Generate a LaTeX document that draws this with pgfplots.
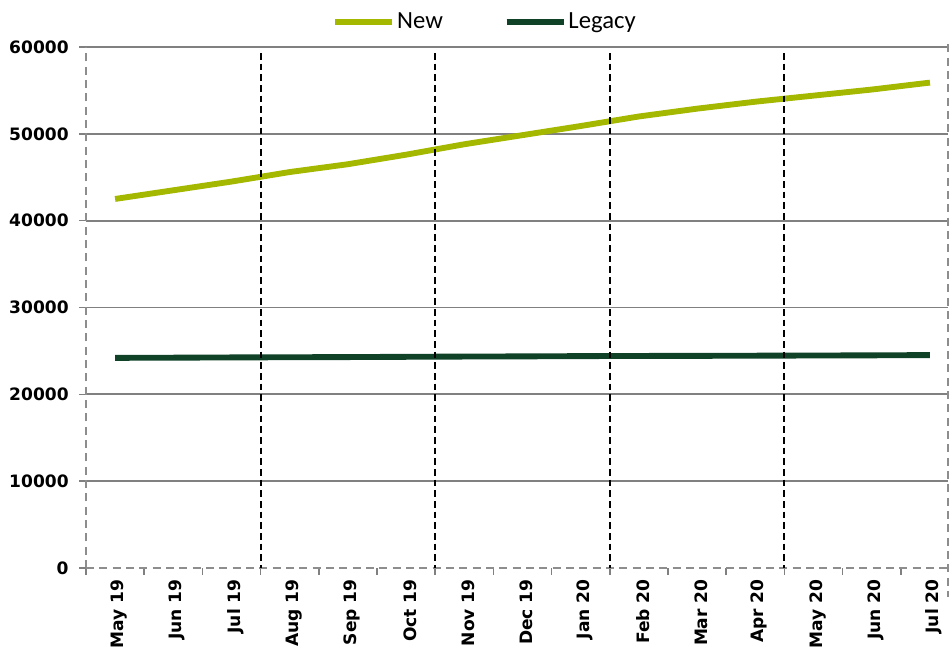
\documentclass[border=0pt]{standalone}
\usepackage{pgfplots}
\pgfplotsset{compat=1.18}
\usepackage{fontspec}
\setmainfont{DejaVu Sans}
\newfontfamily\legfont{Carlito}
\definecolor{newc}{HTML}{A5B800}
\definecolor{legc}{HTML}{0F4226}
\definecolor{gridc}{HTML}{808080}
\begin{document}
\begin{tikzpicture}
\begin{axis}[
  scale only axis, width=646.5pt, height=390.75pt,
  xmin=-0.5, xmax=14.31, ymin=0, ymax=60000,
  clip=false,
  axis lines=left,
  axis line style={-, gridc!90, line width=1.2pt, dash pattern=on 6pt off 4pt},
  xtick={0,...,14},
  xticklabels={May 19,Jun 19,Jul 19,Aug 19,Sep 19,Oct 19,Nov 19,Dec 19,Jan 20,Feb 20,Mar 20,Apr 20,May 20,Jun 20,Jul 20},
  minor xtick={-0.5,0.5,...,13.5},
  major x tick style={draw=none},
  minor x tick style={gridc, line width=1.2pt},
  minor tick length=5pt,
  major tick length=5pt,
  tick align=outside,
  ytick={10000,20000,...,60000},
  extra y ticks={0},
  extra y tick style={grid=none},
  ytick style={gridc, line width=1.2pt},
  scaled y ticks=false,
  ymajorgrids,
  major grid style={gridc, line width=1.4pt, solid},
  /pgf/number format/assume math mode=true,
  /pgf/number format/1000 sep={},
  tick label style={font=\bfseries\fontsize{12.8}{15}\selectfont, black},
  yticklabel style={xshift=-4.5pt},
  xticklabel style={rotate=90, anchor=east, yshift=-3pt},
  legend style={at={(0.2855,1)}, anchor=west, yshift=18.75pt, draw=none, fill=none,
    inner sep=0pt, font=\legfont\fontsize{18.5}{20}\selectfont,
    nodes={inner sep=1.5pt},
    /tikz/every even column/.append style={column sep=44pt}},
  legend columns=2,
  legend image code/.code={\draw[#1] (0pt,0pt) -- (42.75pt,0pt);},
]
\addplot[newc, line width=4.4pt] coordinates {
(0,42500) (1,43500) (2,44500) (3,45600) (4,46500) (5,47600) (6,48800) (7,49850)
(8,50900) (9,52000) (10,52900) (11,53700) (12,54400) (13,55100) (14,55900)};
\addlegendentry{New}
\addplot[legc, line width=4.4pt] coordinates {
(0,24200) (1,24220) (2,24250) (3,24270) (4,24290) (5,24320) (6,24350) (7,24370)
(8,24400) (9,24420) (10,24430) (11,24450) (12,24470) (13,24490) (14,24520)};
\addlegendentry{Legacy}
\draw[black, line width=1.5pt, dash pattern=on 5pt off 3pt] (axis cs:2.5,59300) -- (axis cs:2.5,0);
\draw[black, line width=1.5pt, dash pattern=on 5pt off 3pt] (axis cs:5.5,59300) -- (axis cs:5.5,0);
\draw[black, line width=1.5pt, dash pattern=on 5pt off 3pt] (axis cs:8.5,59300) -- (axis cs:8.5,0);
\draw[black, line width=1.5pt, dash pattern=on 5pt off 3pt] (axis cs:11.5,59300) -- (axis cs:11.5,0);
\draw[gridc!90, line width=1.2pt, dash pattern=on 6pt off 4pt] (axis cs:14.31,60300) -- (axis cs:14.31,-3300);
\end{axis}
\pgfresetboundingbox
\path[use as bounding box] ([shift={(-64.5pt,-62.25pt)}]current axis.south west) rectangle ([shift={(2.25pt,35.25pt)}]current axis.north east);
\end{tikzpicture}
\end{document}
